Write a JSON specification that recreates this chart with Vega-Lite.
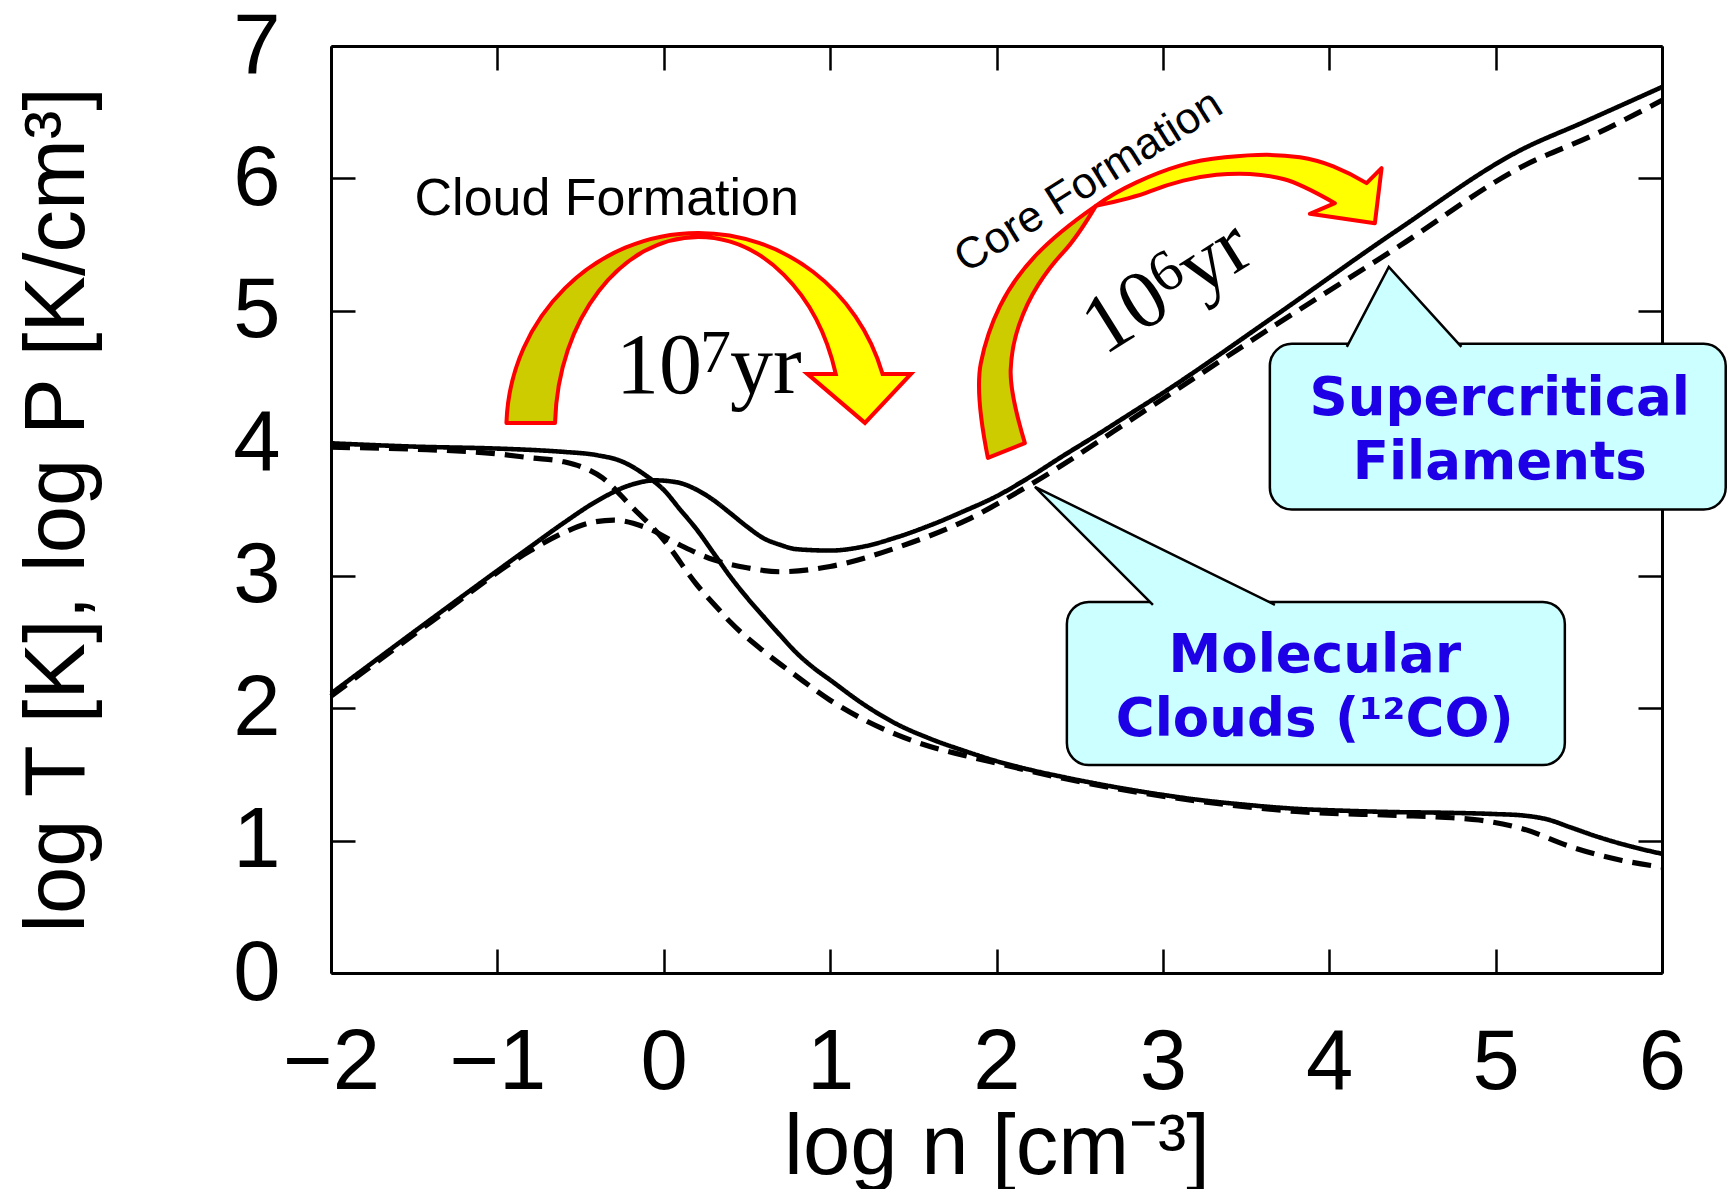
{
  "$schema": "https://vega.github.io/schema/vega-lite/v6.json",
  "width": 1331,
  "height": 927,
  "autosize": {"type": "none"},
  "padding": {"left": 331, "top": 46, "right": 66, "bottom": 216},
  "background": "white",
  "config": {"view": {"stroke": null}, "axis": {"grid": false}},
  "datasets": {
    "curves": [
      {"n": -2, "v": 4.0, "quantity": "T", "model": "A"},
      {"n": -1.5, "v": 3.975, "quantity": "T", "model": "A"},
      {"n": -1.0, "v": 3.96, "quantity": "T", "model": "A"},
      {"n": -0.8, "v": 3.95, "quantity": "T", "model": "A"},
      {"n": -0.6, "v": 3.935, "quantity": "T", "model": "A"},
      {"n": -0.4, "v": 3.91, "quantity": "T", "model": "A"},
      {"n": -0.25, "v": 3.862, "quantity": "T", "model": "A"},
      {"n": -0.1, "v": 3.75, "quantity": "T", "model": "A"},
      {"n": 0.0, "v": 3.648, "quantity": "T", "model": "A"},
      {"n": 0.1, "v": 3.497, "quantity": "T", "model": "A"},
      {"n": 0.2, "v": 3.346, "quantity": "T", "model": "A"},
      {"n": 0.3, "v": 3.17, "quantity": "T", "model": "A"},
      {"n": 0.4, "v": 2.993, "quantity": "T", "model": "A"},
      {"n": 0.5, "v": 2.835, "quantity": "T", "model": "A"},
      {"n": 0.6, "v": 2.691, "quantity": "T", "model": "A"},
      {"n": 0.7, "v": 2.55, "quantity": "T", "model": "A"},
      {"n": 0.8, "v": 2.415, "quantity": "T", "model": "A"},
      {"n": 0.9, "v": 2.305, "quantity": "T", "model": "A"},
      {"n": 1.0, "v": 2.213, "quantity": "T", "model": "A"},
      {"n": 1.2, "v": 2.03, "quantity": "T", "model": "A"},
      {"n": 1.4, "v": 1.88, "quantity": "T", "model": "A"},
      {"n": 1.6, "v": 1.77, "quantity": "T", "model": "A"},
      {"n": 1.8, "v": 1.68, "quantity": "T", "model": "A"},
      {"n": 2.0, "v": 1.6, "quantity": "T", "model": "A"},
      {"n": 2.2, "v": 1.535, "quantity": "T", "model": "A"},
      {"n": 2.4, "v": 1.48, "quantity": "T", "model": "A"},
      {"n": 2.6, "v": 1.43, "quantity": "T", "model": "A"},
      {"n": 2.8, "v": 1.385, "quantity": "T", "model": "A"},
      {"n": 3.0, "v": 1.345, "quantity": "T", "model": "A"},
      {"n": 3.2, "v": 1.31, "quantity": "T", "model": "A"},
      {"n": 3.5, "v": 1.27, "quantity": "T", "model": "A"},
      {"n": 3.8, "v": 1.24, "quantity": "T", "model": "A"},
      {"n": 4.1, "v": 1.225, "quantity": "T", "model": "A"},
      {"n": 4.4, "v": 1.215, "quantity": "T", "model": "A"},
      {"n": 4.7, "v": 1.21, "quantity": "T", "model": "A"},
      {"n": 5.0, "v": 1.2, "quantity": "T", "model": "A"},
      {"n": 5.16, "v": 1.19, "quantity": "T", "model": "A"},
      {"n": 5.31, "v": 1.16, "quantity": "T", "model": "A"},
      {"n": 5.45, "v": 1.1, "quantity": "T", "model": "A"},
      {"n": 5.61, "v": 1.03, "quantity": "T", "model": "A"},
      {"n": 5.8, "v": 0.96, "quantity": "T", "model": "A"},
      {"n": 6.0, "v": 0.9, "quantity": "T", "model": "A"},

      {"n": -2, "v": 3.97, "quantity": "T", "model": "B"},
      {"n": -1.5, "v": 3.955, "quantity": "T", "model": "B"},
      {"n": -1.0, "v": 3.92, "quantity": "T", "model": "B"},
      {"n": -0.8, "v": 3.89, "quantity": "T", "model": "B"},
      {"n": -0.6, "v": 3.86, "quantity": "T", "model": "B"},
      {"n": -0.49, "v": 3.82, "quantity": "T", "model": "B"},
      {"n": -0.37, "v": 3.74, "quantity": "T", "model": "B"},
      {"n": -0.2, "v": 3.53, "quantity": "T", "model": "B"},
      {"n": 0.0, "v": 3.27, "quantity": "T", "model": "B"},
      {"n": 0.2, "v": 2.93, "quantity": "T", "model": "B"},
      {"n": 0.32, "v": 2.76, "quantity": "T", "model": "B"},
      {"n": 0.4, "v": 2.65, "quantity": "T", "model": "B"},
      {"n": 0.6, "v": 2.43, "quantity": "T", "model": "B"},
      {"n": 0.8, "v": 2.24, "quantity": "T", "model": "B"},
      {"n": 1.0, "v": 2.06, "quantity": "T", "model": "B"},
      {"n": 1.2, "v": 1.915, "quantity": "T", "model": "B"},
      {"n": 1.4, "v": 1.8, "quantity": "T", "model": "B"},
      {"n": 1.6, "v": 1.71, "quantity": "T", "model": "B"},
      {"n": 1.8, "v": 1.645, "quantity": "T", "model": "B"},
      {"n": 2.0, "v": 1.585, "quantity": "T", "model": "B"},
      {"n": 2.4, "v": 1.47, "quantity": "T", "model": "B"},
      {"n": 2.8, "v": 1.375, "quantity": "T", "model": "B"},
      {"n": 3.2, "v": 1.3, "quantity": "T", "model": "B"},
      {"n": 3.8, "v": 1.22, "quantity": "T", "model": "B"},
      {"n": 4.4, "v": 1.19, "quantity": "T", "model": "B"},
      {"n": 4.7, "v": 1.175, "quantity": "T", "model": "B"},
      {"n": 4.9, "v": 1.155, "quantity": "T", "model": "B"},
      {"n": 5.16, "v": 1.09, "quantity": "T", "model": "B"},
      {"n": 5.46, "v": 0.95, "quantity": "T", "model": "B"},
      {"n": 5.76, "v": 0.85, "quantity": "T", "model": "B"},
      {"n": 6.0, "v": 0.8, "quantity": "T", "model": "B"},

      {"n": -2, "v": 2.11, "quantity": "P", "model": "A"},
      {"n": -1.4, "v": 2.67, "quantity": "P", "model": "A"},
      {"n": -0.8, "v": 3.22, "quantity": "P", "model": "A"},
      {"n": -0.6, "v": 3.4, "quantity": "P", "model": "A"},
      {"n": -0.4, "v": 3.565, "quantity": "P", "model": "A"},
      {"n": -0.2, "v": 3.685, "quantity": "P", "model": "A"},
      {"n": -0.05, "v": 3.72, "quantity": "P", "model": "A"},
      {"n": 0.08, "v": 3.705, "quantity": "P", "model": "A"},
      {"n": 0.2, "v": 3.648, "quantity": "P", "model": "A"},
      {"n": 0.3, "v": 3.57, "quantity": "P", "model": "A"},
      {"n": 0.4, "v": 3.472, "quantity": "P", "model": "A"},
      {"n": 0.5, "v": 3.371, "quantity": "P", "model": "A"},
      {"n": 0.6, "v": 3.283, "quantity": "P", "model": "A"},
      {"n": 0.7, "v": 3.233, "quantity": "P", "model": "A"},
      {"n": 0.8, "v": 3.2, "quantity": "P", "model": "A"},
      {"n": 1.0, "v": 3.19, "quantity": "P", "model": "A"},
      {"n": 1.2, "v": 3.22, "quantity": "P", "model": "A"},
      {"n": 1.4, "v": 3.29, "quantity": "P", "model": "A"},
      {"n": 1.6, "v": 3.38, "quantity": "P", "model": "A"},
      {"n": 1.8, "v": 3.485, "quantity": "P", "model": "A"},
      {"n": 2.0, "v": 3.6, "quantity": "P", "model": "A"},
      {"n": 2.2, "v": 3.745, "quantity": "P", "model": "A"},
      {"n": 2.4, "v": 3.905, "quantity": "P", "model": "A"},
      {"n": 2.6, "v": 4.06, "quantity": "P", "model": "A"},
      {"n": 2.8, "v": 4.22, "quantity": "P", "model": "A"},
      {"n": 3.0, "v": 4.38, "quantity": "P", "model": "A"},
      {"n": 3.66, "v": 4.95, "quantity": "P", "model": "A"},
      {"n": 4.41, "v": 5.61, "quantity": "P", "model": "A"},
      {"n": 5.16, "v": 6.22, "quantity": "P", "model": "A"},
      {"n": 5.52, "v": 6.42, "quantity": "P", "model": "A"},
      {"n": 6.0, "v": 6.69, "quantity": "P", "model": "A"},

      {"n": -2, "v": 2.09, "quantity": "P", "model": "B"},
      {"n": -1.4, "v": 2.65, "quantity": "P", "model": "B"},
      {"n": -0.8, "v": 3.19, "quantity": "P", "model": "B"},
      {"n": -0.61, "v": 3.32, "quantity": "P", "model": "B"},
      {"n": -0.44, "v": 3.4, "quantity": "P", "model": "B"},
      {"n": -0.3, "v": 3.42, "quantity": "P", "model": "B"},
      {"n": -0.1, "v": 3.36, "quantity": "P", "model": "B"},
      {"n": 0.1, "v": 3.23, "quantity": "P", "model": "B"},
      {"n": 0.3, "v": 3.12, "quantity": "P", "model": "B"},
      {"n": 0.5, "v": 3.06, "quantity": "P", "model": "B"},
      {"n": 0.7, "v": 3.03, "quantity": "P", "model": "B"},
      {"n": 1.0, "v": 3.07, "quantity": "P", "model": "B"},
      {"n": 1.42, "v": 3.22, "quantity": "P", "model": "B"},
      {"n": 1.82, "v": 3.42, "quantity": "P", "model": "B"},
      {"n": 2.22, "v": 3.7, "quantity": "P", "model": "B"},
      {"n": 2.92, "v": 4.27, "quantity": "P", "model": "B"},
      {"n": 3.66, "v": 4.88, "quantity": "P", "model": "B"},
      {"n": 4.41, "v": 5.48, "quantity": "P", "model": "B"},
      {"n": 5.16, "v": 6.09, "quantity": "P", "model": "B"},
      {"n": 5.61, "v": 6.34, "quantity": "P", "model": "B"},
      {"n": 6.0, "v": 6.59, "quantity": "P", "model": "B"}
    ]
  },
  "layer": [
    {
      "data": {"name": "curves"},
      "mark": {"type": "line", "color": "black", "interpolate": "monotone"},
      "encoding": {
        "x": {
          "field": "n", "type": "quantitative",
          "scale": {"domain": [-2, 6], "nice": false, "zero": false},
          "axis": {
            "orient": "bottom", "values": [-2, -1, 0, 1, 2, 3, 4, 5, 6],
            "title": "log n [cm⁻³]",
            "domain": true, "domainColor": "black", "domainWidth": 3,
            "ticks": true, "tickSize": -24, "tickWidth": 2.5, "tickColor": "black",
            "labelFont": "Liberation Sans", "labelFontSize": 85, "labelColor": "black",
            "labelPadding": 139, "labelBaseline": "alphabetic", "labelFlush": false, "labelOverlap": false,
            "titleFont": "Liberation Sans", "titleFontSize": 85, "titleFontWeight": "normal", "titleColor": "black",
            "titleBaseline": "alphabetic", "titleAlign": "center", "titleX": 665.5, "titleY": 200
          }
        },
        "y": {
          "field": "v", "type": "quantitative",
          "scale": {"domain": [0, 7], "nice": false, "zero": false},
          "axis": {
            "orient": "left", "values": [0, 1, 2, 3, 4, 5, 6, 7],
            "title": "log T [K], log P [K/cm³]",
            "domain": true, "domainColor": "black", "domainWidth": 3,
            "ticks": true, "tickSize": -24, "tickWidth": 2.5, "tickColor": "black",
            "labelFont": "Liberation Sans", "labelFontSize": 85, "labelColor": "black",
            "labelPadding": 75, "labelAlign": "right", "labelBaseline": "middle", "labelFlush": false, "labelOverlap": false,
            "titleFont": "Liberation Sans", "titleFontSize": 85, "titleFontWeight": "normal", "titleColor": "black",
            "titleAngle": 270, "titleBaseline": "alphabetic", "titleAlign": "center", "titleX": -248, "titleY": 463.5
          }
        },
        "detail": {"field": "quantity"},
        "strokeDash": {
          "field": "model", "type": "nominal",
          "scale": {"domain": ["A", "B"], "range": [[1, 0], [19, 10]]},
          "legend": null
        },
        "strokeWidth": {
          "field": "model", "type": "nominal",
          "scale": {"domain": ["A", "B"], "range": [4.6, 5.2]},
          "legend": null
        }
      }
    },
    {
      "data": {"name": "curves"},
      "mark": {"type": "line", "opacity": 0},
      "encoding": {
        "x": {
          "field": "n", "type": "quantitative",
          "scale": {"domain": [-2, 6], "nice": false, "zero": false},
          "axis": {
            "orient": "top", "values": [-2, -1, 0, 1, 2, 3, 4, 5, 6], "title": null, "labels": false,
            "domain": true, "domainColor": "black", "domainWidth": 3,
            "ticks": true, "tickSize": -24, "tickWidth": 2.5, "tickColor": "black"
          }
        },
        "y": {
          "field": "v", "type": "quantitative",
          "scale": {"domain": [0, 7], "nice": false, "zero": false},
          "axis": {
            "orient": "right", "values": [0, 1, 2, 3, 4, 5, 6, 7], "title": null, "labels": false,
            "domain": true, "domainColor": "black", "domainWidth": 3,
            "ticks": true, "tickSize": -24, "tickWidth": 2.5, "tickColor": "black"
          }
        },
        "detail": {"field": "quantity"}
      }
    },
    {
      "data": {"values": [
        {"label": "Supercritical Filaments", "n": 3.643, "n2": 6.383, "v": 4.751, "v2": 3.5},
        {"label": "Molecular Clouds", "n": 2.423, "n2": 5.416, "v": 2.802, "v2": 1.57}
      ]},
      "mark": {"type": "rect", "cornerRadius": 22, "fill": "#CCFFFF", "stroke": "black", "strokeWidth": 2.5},
      "encoding": {
        "x": {"field": "n", "type": "quantitative", "axis": null},
        "x2": {"field": "n2"},
        "y": {"field": "v", "type": "quantitative", "axis": null},
        "y2": {"field": "v2"}
      }
    },
    {
      "data": {"values": [{"label": "pointer to Supercritical Filaments", "n": 4.358, "v": 5.332}]},
      "mark": {"type": "point", "shape": "M -42 80 L 0 0 L 72.6 80", "size": 4, "filled": true, "fill": "#CCFFFF", "stroke": "black", "strokeWidth": 2.5, "opacity": 1},
      "encoding": {
        "x": {"field": "n", "type": "quantitative", "axis": null},
        "y": {"field": "v", "type": "quantitative", "axis": null}
      }
    },
    {
      "data": {"values": [{"label": "pointer to Molecular Clouds", "n": 2.231, "v": 3.671}]},
      "mark": {"type": "point", "shape": "M 118 118 L 0 0 L 240 118", "size": 4, "filled": true, "fill": "#CCFFFF", "stroke": "black", "strokeWidth": 2.5, "opacity": 1},
      "encoding": {
        "x": {"field": "n", "type": "quantitative", "axis": null},
        "y": {"field": "v", "type": "quantitative", "axis": null}
      }
    },
    {
      "data": {"values": [{"label": "Cloud Formation arrow", "n": 0.2085, "v": 4.1012}]},
      "mark": {"type": "point", "shape": "M -192 -7 A 192 197 0 0 1 0 -197 L 0 -193 A 143.5 193 0 0 0 -143.4 -7 Z", "size": 4, "filled": true, "fill": "#CCCC00", "stroke": "#FF0000", "strokeWidth": 4, "strokeJoin": "round", "opacity": 1},
      "encoding": {
        "x": {"field": "n", "type": "quantitative", "axis": null},
        "y": {"field": "v", "type": "quantitative", "axis": null}
      }
    },
    {
      "data": {"values": [{"label": "Cloud Formation arrow", "n": 0.2085, "v": 4.1012}]},
      "mark": {"type": "point", "shape": "M 0 -197 A 192 197 0 0 1 184.1 -56 L 212.5 -56 L 166.5 -7 L 109 -56 L 137.3 -56 A 143.5 193 0 0 0 0 -193 Z", "size": 4, "filled": true, "fill": "#FFFF00", "stroke": "#FF0000", "strokeWidth": 4, "opacity": 1},
      "encoding": {
        "x": {"field": "n", "type": "quantitative", "axis": null},
        "y": {"field": "v", "type": "quantitative", "axis": null}
      }
    },
    {
      "data": {"values": [{"label": "Core Formation arrow", "n": 3.1022, "v": 5.0831}]},
      "mark": {"type": "point", "shape": "M -192 158 Q -205 93 -199 63 Q -193 33 -180 6.5 Q -167 -20 -145 -43.5 Q -123 -67 -84 -94 Q -103.3 -61.7 -116.7 -47.5 Q -130 -33.3 -141.7 -15 Q -153.3 3.3 -160.8 25 Q -168.3 46.7 -169.2 70 Q -170 93.3 -155 143.3 Z", "size": 4, "filled": true, "fill": "#CCCC00", "stroke": "#FF0000", "strokeWidth": 4, "strokeJoin": "round", "opacity": 1},
      "encoding": {
        "x": {"field": "n", "type": "quantitative", "axis": null},
        "y": {"field": "v", "type": "quantitative", "axis": null}
      }
    },
    {
      "data": {"values": [{"label": "Core Formation arrow", "n": 3.1022, "v": 5.0831}]},
      "mark": {"type": "point", "shape": "M -84 -94 Q -66.7 -106.7 -43.4 -117.5 Q -20 -128.3 0 -134.2 Q 20 -140 45 -142.5 Q 70 -145 86.7 -145 Q 103.3 -145 120 -142.5 Q 136.7 -140 153.4 -133.4 Q 170 -126.7 186.7 -116.7 L 201.7 -131.7 L 195 -76.7 L 130 -86 L 155 -96.7 Q 120 -116.7 103.4 -120.9 Q 86.7 -125 70 -125.9 Q 53.3 -126.7 36.7 -125 Q 20 -123.3 3.4 -119.2 Q -13.3 -115 -30 -108.4 Q -46.7 -101.7 -84 -94 Z", "size": 4, "filled": true, "fill": "#FFFF00", "stroke": "#FF0000", "strokeWidth": 4, "strokeJoin": "round", "opacity": 1},
      "encoding": {
        "x": {"field": "n", "type": "quantitative", "axis": null},
        "y": {"field": "v", "type": "quantitative", "axis": null}
      }
    },
    {
      "data": {"values": [{"label": "Cloud Formation", "n": -1.498, "v": 5.725}]},
      "mark": {"type": "text", "font": "Liberation Sans", "fontSize": 52, "color": "black", "align": "left", "baseline": "alphabetic"},
      "encoding": {
        "x": {"field": "n", "type": "quantitative", "axis": null},
        "y": {"field": "v", "type": "quantitative", "axis": null},
        "text": {"field": "label"}
      }
    },
    {
      "data": {"values": [{"label": "Core Formation", "n": 2.555, "v": 5.975}]},
      "mark": {"type": "text", "font": "Liberation Sans", "fontSize": 44, "color": "black", "align": "center", "baseline": "middle", "angle": 328},
      "encoding": {
        "x": {"field": "n", "type": "quantitative", "axis": null},
        "y": {"field": "v", "type": "quantitative", "axis": null},
        "text": {"field": "label"}
      }
    },
    {
      "data": {"values": [
        {"label": "10", "n": -0.2873, "v": 4.3807},
        {"label": "yr", "n": 0.3978, "v": 4.3807}
      ]},
      "mark": {"type": "text", "font": "Liberation Serif", "fontSize": 86, "color": "black", "align": "left", "baseline": "alphabetic"},
      "encoding": {
        "x": {"field": "n", "type": "quantitative", "axis": null},
        "y": {"field": "v", "type": "quantitative", "axis": null},
        "text": {"field": "label"}
      }
    },
    {
      "data": {"values": [{"label": "7", "n": 0.2176, "v": 4.539}]},
      "mark": {"type": "text", "font": "Liberation Serif", "fontSize": 62, "color": "black", "align": "left", "baseline": "alphabetic"},
      "encoding": {
        "x": {"field": "n", "type": "quantitative", "axis": null},
        "y": {"field": "v", "type": "quantitative", "axis": null},
        "text": {"field": "label"}
      }
    },
    {
      "data": {"values": [
        {"label": "10", "n": 2.646, "v": 4.66},
        {"label": "yr", "n": 3.212, "v": 5.104}
      ]},
      "mark": {"type": "text", "font": "Liberation Serif", "fontSize": 83, "color": "black", "align": "left", "baseline": "alphabetic", "angle": 328},
      "encoding": {
        "x": {"field": "n", "type": "quantitative", "axis": null},
        "y": {"field": "v", "type": "quantitative", "axis": null},
        "text": {"field": "label"}
      }
    },
    {
      "data": {"values": [{"label": "6", "n": 3.0006, "v": 5.117}]},
      "mark": {"type": "text", "font": "Liberation Serif", "fontSize": 58, "color": "black", "align": "left", "baseline": "alphabetic", "angle": 328},
      "encoding": {
        "x": {"field": "n", "type": "quantitative", "axis": null},
        "y": {"field": "v", "type": "quantitative", "axis": null},
        "text": {"field": "label"}
      }
    },
    {
      "data": {"values": [
        {"label": "Supercritical", "n": 5.025, "v": 4.215},
        {"label": "Filaments", "n": 5.025, "v": 3.731},
        {"label": "Molecular", "n": 3.913, "v": 2.273},
        {"label": "Clouds (¹²CO)", "n": 3.913, "v": 1.79}
      ]},
      "mark": {"type": "text", "font": "DejaVu Sans", "fontWeight": "bold", "fontSize": 53, "color": "#1E00E6", "align": "center", "baseline": "alphabetic"},
      "encoding": {
        "x": {"field": "n", "type": "quantitative", "axis": null},
        "y": {"field": "v", "type": "quantitative", "axis": null},
        "text": {"field": "label"}
      }
    }
  ],
  "resolve": {"axis": {"x": "independent", "y": "independent"}}
}
